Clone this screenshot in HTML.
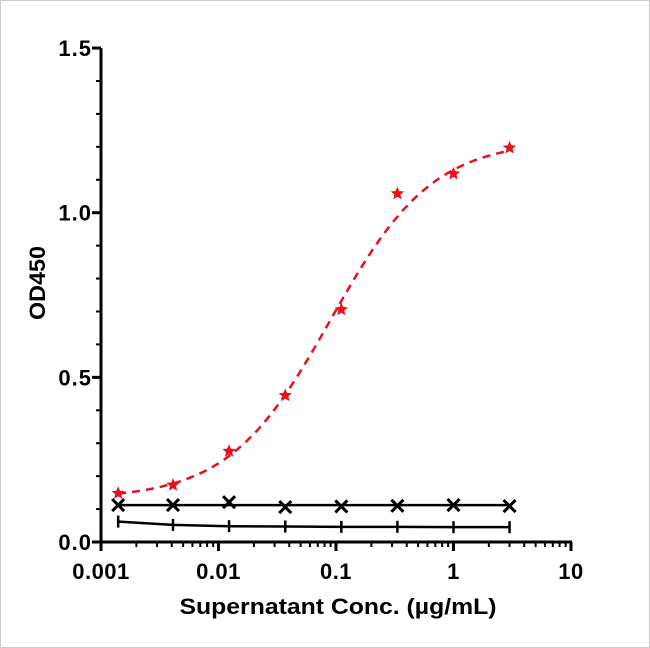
<!DOCTYPE html>
<html><head><meta charset="utf-8"><style>
body{margin:0;background:#fff;}
svg{display:block;font-family:"Liberation Sans",Arial,sans-serif;font-weight:bold;}
</style></head><body>
<svg id="chart" width="650" height="648">
<rect x="0.5" y="0.5" width="649" height="647" fill="#fff" stroke="#ccc"/>
<g id="axes"></g><g id="series"></g>
<text x="45" y="283" transform="rotate(-90 45 283)" text-anchor="middle" font-size="22" textLength="74" lengthAdjust="spacingAndGlyphs">OD450</text>
<text x="338" y="614" text-anchor="middle" font-size="22" textLength="317" lengthAdjust="spacingAndGlyphs">Supernatant Conc. (µg/mL)</text>
</svg>
<script>
const xVals=[0.0014,0.0041,0.0123,0.037,0.111,0.333,1,3];
const redVals=[0.148,0.173,0.276,0.445,0.706,1.058,1.118,1.197];
const crossVals=[0.112,0.112,0.121,0.106,0.108,0.110,0.112,0.109];
const barVals=[0.062,0.052,0.048,0.047,0.046,0.046,0.045,0.045];
const yTicks=[0,0.5,1.0,1.5];
const yTickLabels=["0.0","0.5","1.0","1.5"];
const xTicks=[0.001,0.01,0.1,1,10];
const xTickLabels=["0.001","0.01","0.1","1","10"];
const NS="http://www.w3.org/2000/svg";
const X=v=>101+(Math.log10(v)+3)*117.5;
const Y=v=>542-v*329.3;
function mk(t,a,p){const e=document.createElementNS(NS,t);for(const k in a)e.setAttribute(k,a[k]);p.appendChild(e);return e;}
const ax=document.getElementById('axes'),se=document.getElementById('series');
let l=mk('line',{x1:101,y1:Y(1.5),x2:101,y2:543,stroke:'#000','stroke-width':3},ax);


l=mk('line',{x1:100,y1:542,x2:572,y2:542,stroke:'#000','stroke-width':3},ax);


yTicks.forEach((v,i)=>{mk('line',{x1:92,y1:Y(v),x2:101,y2:Y(v),stroke:'#000','stroke-width':3},ax);
 const t=mk('text',{x:92,y:Y(v)+8,'text-anchor':'end','font-size':22,'letter-spacing':1},ax);t.textContent=yTickLabels[i];
 
 
 if(i<yTicks.length-1)for(let k=1;k<5;k++)mk('line',{x1:96,y1:Y(v+k*0.1),x2:101,y2:Y(v+k*0.1),stroke:'#000','stroke-width':2},ax);});
xTicks.forEach((v,i)=>{mk('line',{x1:X(v),y1:542,x2:X(v),y2:551,stroke:'#000','stroke-width':3},ax);
 const t=mk('text',{x:X(v),y:579,'text-anchor':'middle','font-size':22,'letter-spacing':0.5},ax);t.textContent=xTickLabels[i];
 
 
 if(i<xTicks.length-1)for(let k=2;k<10;k++)mk('line',{x1:X(v*k),y1:542,x2:X(v*k),y2:547,stroke:'#000','stroke-width':2},ax);});
function fit(x){return 0.13+1.09/(1+0.09/x);}
let d='';for(let i=0;i<=100;i++){const x=Math.pow(10,Math.log10(xVals[0])+i/100*(Math.log10(xVals[7])-Math.log10(xVals[0])));d+=(i?'L':'M')+X(x).toFixed(1)+' '+Y(fit(x)).toFixed(1);}
let p=mk('path',{d:d,fill:'none',stroke:'#e8111b','stroke-width':2.5,'stroke-dasharray':'8 6'},se);


function star(cx,cy,r){let s='';for(let i=0;i<10;i++){const a=-Math.PI/2+i*Math.PI/5,rr=i%2?r*0.45:r;s+=(i?'L':'M')+(cx+rr*Math.cos(a)).toFixed(1)+' '+(cy+rr*Math.sin(a)).toFixed(1);}return s+'Z';}
xVals.forEach((x,i)=>{const s=mk('path',{d:star(X(x),Y(redVals[i]),7),fill:'#e8111b'},se);
 
 });
l=mk('path',{d:'M'+X(xVals[0])+' '+Y(crossVals[0])+'L'+X(xVals[7])+' '+Y(crossVals[0]),fill:'none',stroke:'#000','stroke-width':2.5},se);


xVals.forEach((x,i)=>{const cx=X(x),cy=Y(crossVals[i]);const c=mk('path',{d:`M${cx-6} ${cy-6}L${cx+6} ${cy+6}M${cx-6} ${cy+6}L${cx+6} ${cy-6}`,stroke:'#000','stroke-width':3},se);
 
 });
d='';xVals.forEach((x,i)=>{d+=(i?'L':'M')+X(x)+' '+Y(barVals[i]);});
p=mk('path',{d:d,fill:'none',stroke:'#000','stroke-width':2.5},se);


xVals.forEach((x,i)=>{const cx=X(x),cy=Y(barVals[i]);const c=mk('line',{x1:cx,y1:cy-6,x2:cx,y2:cy+6,stroke:'#000','stroke-width':2.5},se);
 
 });
</script>
</body></html>
